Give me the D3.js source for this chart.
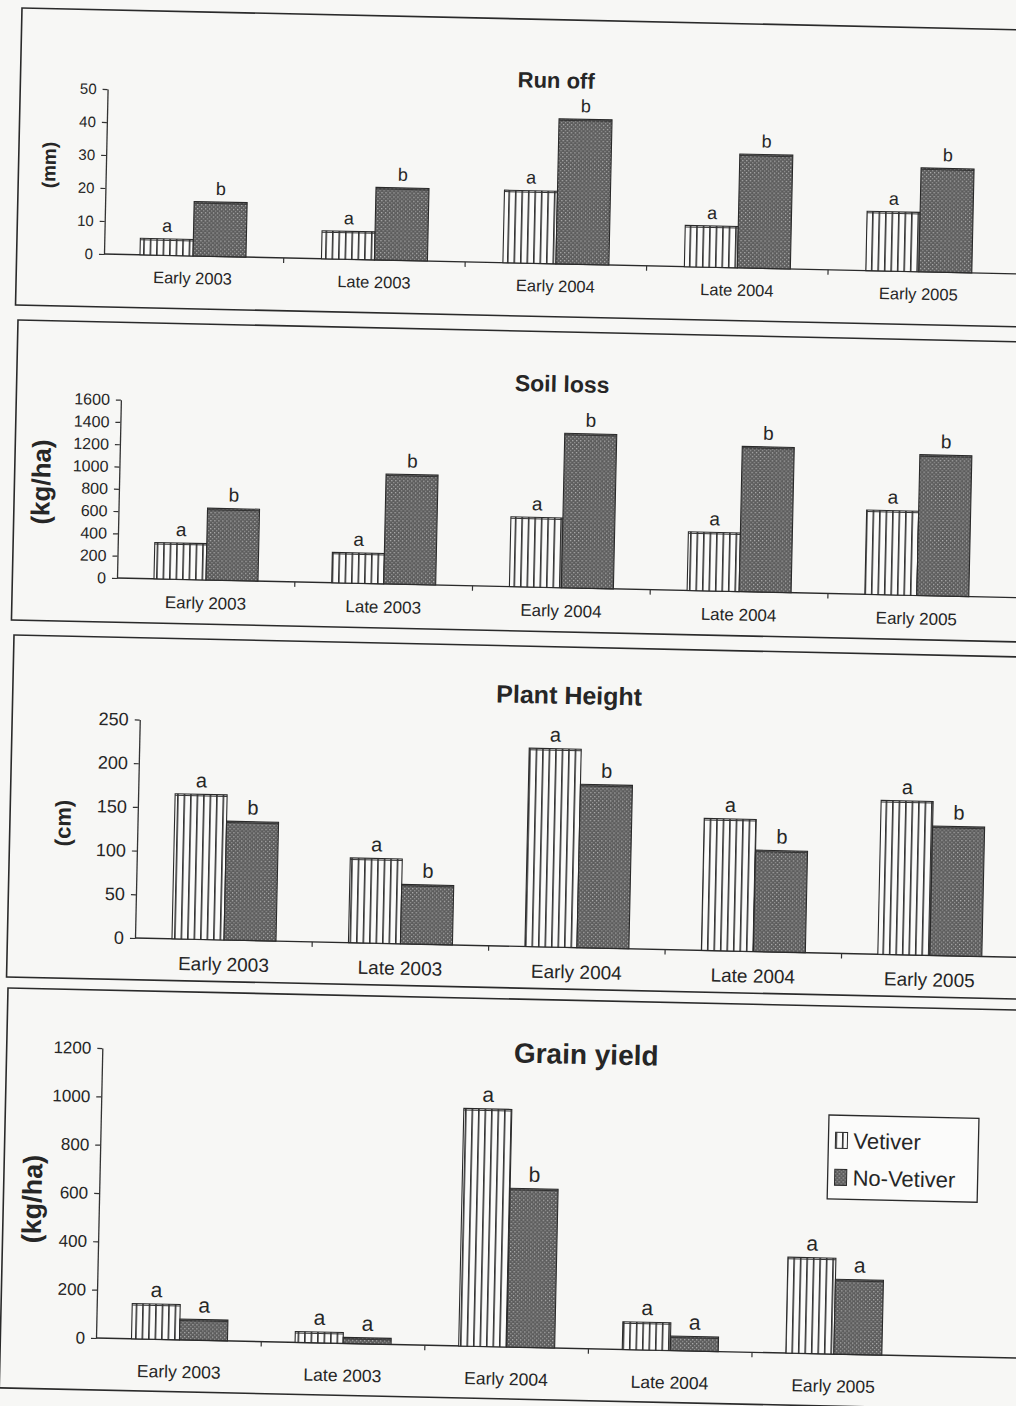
<!DOCTYPE html>
<html>
<head>
<meta charset="utf-8">
<script src="https://cdn.jsdelivr.net/npm/d3@7"></script>
<style>
  body { margin: 0; background: #f7f7f5; }
  svg { display: block; }
  text { fill: #262626; }
</style>
</head>
<body>
<script>
// Seasons and values
const seasons = ["Early 2003", "Late 2003", "Early 2004", "Late 2004", "Early 2005"];

const runoffV = [5, 8.5, 22, 12.5, 18];
const runoffNV = [16.5, 22, 44, 34.5, 31.5];
const runoffTicks = [0, 10, 20, 30, 40, 50];

const soilV = [326, 272, 626, 526, 756];
const soilNV = [644, 985, 1385, 1303, 1263];
const soilTicks = [0, 200, 400, 600, 800, 1000, 1200, 1400, 1600];

const heightV = [166, 97, 227, 151, 176];
const heightNV = [136, 68, 187, 116, 148];
const heightTicks = [0, 50, 100, 150, 200, 250];

const grainV = [146, 45, 983, 115, 397];
const grainNV = [86, 25, 657, 60, 310];
const grainTicks = [0, 200, 400, 600, 800, 1000, 1200];

const lettersV = ["a", "a", "a", "a", "a"];
const lettersNV = ["b", "b", "b", "b", "b"];
const grainLettersNV = ["a", "a", "b", "a", "a"];

const width = 1016, height = 1406;
const tilt = 1.25; // the scan is slightly rotated
const font = "'Liberation Sans', Arial, sans-serif";

const svg = d3.select("body").append("svg")
    .attr("width", width)
    .attr("height", height)
    .style("font-family", font);

// fill patterns
const defs = svg.append("defs");
const pv = defs.append("pattern").attr("id", "vet")
    .attr("patternUnits", "userSpaceOnUse").attr("width", 6.5).attr("height", 10);
pv.append("rect").attr("width", 6.5).attr("height", 10).attr("fill", "#fbfbfa");
pv.append("rect").attr("x", 0).attr("width", 1.6).attr("height", 10).attr("fill", "#333");

const pn = defs.append("pattern").attr("id", "novet")
    .attr("patternUnits", "userSpaceOnUse").attr("width", 4).attr("height", 4);
pn.append("rect").attr("width", 4).attr("height", 4).attr("fill", "#5c5c5c");
pn.append("rect").attr("x", 0).attr("y", 0).attr("width", 1.3).attr("height", 1.3).attr("fill", "#b0b0b0");
pn.append("rect").attr("x", 2).attr("y", 2).attr("width", 1.3).attr("height", 1.3).attr("fill", "#959595");

// panel frames
const frames = [
    { x: 22, y: 8, h: 297 },
    { x: 18, y: 320, h: 300 },
    { x: 14, y: 635, h: 342 },
    { x: 8, y: 988, h: 400 }
];
frames.forEach(f => {
    svg.append("rect")
        .attr("x", f.x).attr("y", f.y)
        .attr("width", 1100).attr("height", f.h)
        .attr("fill", "none")
        .attr("stroke", "#2a2a2a")
        .attr("stroke-width", 1.6)
        .attr("transform", `rotate(${tilt},${f.x},${f.y})`);
});

const panels = [
    { title: "Run off", unit: "(mm)", v: runoffV, nv: runoffNV, lv: lettersV, lnv: lettersNV,
      ticks: runoffTicks, origin: [104, 254], h: 165, centers: [89, 815], bw: 53,
      labelDy: 28, tickFont: 15, catFont: 16.5, letterFont: 18,
      titlePos: [556, 88], titleFont: 22, unitPos: [49, 165], unitFont: 19 },
    { title: "Soil loss", unit: "(kg/ha)", v: soilV, nv: soilNV, lv: lettersV, lnv: lettersNV,
      ticks: soilTicks, origin: [117, 578], h: 178.4, centers: [89, 800], bw: 52,
      labelDy: 29, tickFont: 16, catFont: 17, letterFont: 19,
      titlePos: [562, 392], titleFont: 23, unitPos: [41, 482], unitFont: 26 },
    { title: "Plant Height", unit: "(cm)", v: heightV, nv: heightNV, lv: lettersV, lnv: lettersNV,
      ticks: heightTicks, origin: [135, 938], h: 218.5, centers: [89, 795], bw: 52,
      labelDy: 31, tickFont: 18, catFont: 19, letterFont: 20,
      titlePos: [569, 704], titleFont: 25, unitPos: [63, 823], unitFont: 22 },
    { title: "Grain yield", unit: "(kg/ha)", v: grainV, nv: grainNV, lv: lettersV, lnv: grainLettersNV,
      ticks: grainTicks, origin: [96, 1338], h: 290, centers: [83.5, 738], bw: 48,
      labelDy: 38, tickFont: 17, catFont: 17.5, letterFont: 21,
      titlePos: [586, 1064], titleFont: 28, unitPos: [32, 1199], unitFont: 27 }
];

panels.forEach(p => {
    const [ox, oy] = p.origin;
    const g = svg.append("g")
        .attr("transform", `translate(${ox},${oy}) rotate(${tilt})`);

    const y = d3.scaleLinear()
        .domain([0, d3.max(p.ticks)])
        .range([0, -p.h]);
    const x = d3.scalePoint()
        .domain(seasons)
        .range(p.centers);

    // y axis
    const yAxis = g.append("g")
        .call(d3.axisLeft(y).tickValues(p.ticks).tickFormat(d3.format("d"))
            .tickSize(5).tickSizeOuter(0).tickPadding(6));
    yAxis.select(".domain").attr("stroke", "#333").attr("stroke-width", 1.3);
    yAxis.selectAll(".tick line").attr("stroke", "#333").attr("stroke-width", 1.2);
    yAxis.selectAll(".tick text")
        .style("font-family", font)
        .style("font-size", p.tickFont + "px")
        .attr("fill", "#262626");

    // baseline with separators between seasons
    g.append("line")
        .attr("x1", 0).attr("x2", 1000)
        .attr("y1", 0).attr("y2", 0)
        .attr("stroke", "#2a2a2a").attr("stroke-width", 1.4);
    const step = x.step();
    g.selectAll(".sep")
        .data(seasons.slice(1))
        .join("line")
        .attr("x1", d => x(d) - step / 2).attr("x2", d => x(d) - step / 2)
        .attr("y1", 0).attr("y2", 5)
        .attr("stroke", "#333").attr("stroke-width", 1.2);

    // bars
    const bars = [];
    seasons.forEach((s, i) => {
        bars.push({ s, val: p.v[i], letter: p.lv[i], dx: -p.bw, fill: "url(#vet)" });
        bars.push({ s, val: p.nv[i], letter: p.lnv[i], dx: 0, fill: "url(#novet)" });
    });

    g.selectAll(".bar")
        .data(bars)
        .join("rect")
        .attr("x", d => x(d.s) + d.dx)
        .attr("y", d => y(d.val))
        .attr("width", p.bw)
        .attr("height", d => -y(d.val))
        .attr("fill", d => d.fill)
        .attr("stroke", "#2a2a2a")
        .attr("stroke-width", 1.1);

    // thicker bar tops
    g.selectAll(".top")
        .data(bars)
        .join("line")
        .attr("x1", d => x(d.s) + d.dx).attr("x2", d => x(d.s) + d.dx + p.bw)
        .attr("y1", d => y(d.val) + 1.5).attr("y2", d => y(d.val) + 1.5)
        .attr("stroke", "#333").attr("stroke-width", 1);

    g.selectAll(".letter")
        .data(bars)
        .join("text")
        .attr("x", d => x(d.s) + d.dx + p.bw / 2)
        .attr("y", d => y(d.val) - 7)
        .attr("text-anchor", "middle")
        .style("font-size", p.letterFont + "px")
        .text(d => d.letter);

    // season labels
    g.selectAll(".cat")
        .data(seasons)
        .join("text")
        .attr("x", d => x(d))
        .attr("y", p.labelDy)
        .attr("text-anchor", "middle")
        .style("font-size", p.catFont + "px")
        .text(d => d);

    // title and unit label, placed on the page
    svg.append("text")
        .attr("transform", `translate(${p.titlePos[0]},${p.titlePos[1]}) rotate(${tilt})`)
        .attr("text-anchor", "middle")
        .style("font-size", p.titleFont + "px")
        .style("font-weight", "bold")
        .text(p.title);

    svg.append("text")
        .attr("transform", `translate(${p.unitPos[0]},${p.unitPos[1]}) rotate(${tilt - 90})`)
        .attr("text-anchor", "middle")
        .attr("dy", "0.35em")
        .style("font-size", p.unitFont + "px")
        .style("font-weight", "bold")
        .text(p.unit);
});

// legend in the grain yield panel
const legendItems = ["Vetiver", "No-Vetiver"];
const legendFills = ["url(#vet)", "url(#novet)"];
const lg = svg.append("g")
    .attr("transform", `translate(829,1115) rotate(${tilt})`);
lg.append("rect")
    .attr("width", 150).attr("height", 84)
    .attr("fill", "#fbfbfa")
    .attr("stroke", "#2a2a2a").attr("stroke-width", 1.3);
const li = lg.selectAll(".item")
    .data(legendItems)
    .join("g")
    .attr("transform", (d, i) => `translate(7,${25 + i * 37})`);
li.append("rect")
    .attr("y", -8).attr("width", 12).attr("height", 16)
    .attr("fill", (d, i) => legendFills[i])
    .attr("stroke", "#2a2a2a").attr("stroke-width", 1);
li.append("text")
    .attr("x", 18).attr("y", 0)
    .attr("dy", "0.36em")
    .style("font-size", "22px")
    .text(d => d);
</script>
</body>
</html>
